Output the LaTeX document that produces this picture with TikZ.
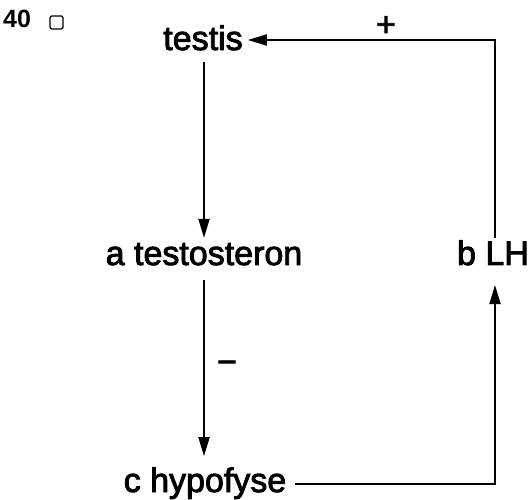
\documentclass[tikz,border=0pt]{standalone}
\usepackage{fontspec}
\setmainfont{Liberation Sans}[BoldFont={Liberation Sans},BoldFeatures={FakeBold=2.5}]
\newfontfamily\nrfont{Liberation Sans Bold}
\usetikzlibrary{arrows.meta}
\begin{document}
\begin{tikzpicture}[x=1pt,y=1pt,
        organ/.style={inner sep=0pt,anchor=base,font=\fontsize{34}{40}\selectfont\bfseries},
        sign/.style={inner sep=0pt,font=\fontsize{34}{40}\selectfont\bfseries},
        feedback/.style={line width=1.9pt,-{Triangle[length=19pt,width=11pt]}}]
    \useasboundingbox (0,0) rectangle (528,499);
    % number of the question
    \node[inner sep=0pt,anchor=base west,font=\fontsize{25}{30}\selectfont\nrfont] (nr) at (3,471) {40};
    \draw[line width=1.1pt,rounded corners=1.5pt] (50,470) rectangle (63,483);
    % the organs
    \node[organ] (testis) at (203,449) {testis};
    \node[organ] (testo) at (204,234) {a testosteron};
    \node[organ] (lh) at (493,234) {b LH};
    \node[organ] (hypo) at (205,7) {c hypofyse};
    \coordinate (hoek1) at (495,15);
    \coordinate (hoek2) at (495,459);
    % the loop
    \draw[feedback] ([yshift=-12pt]testis.base -| testo) -- ([yshift=5pt]testo.north);
    \draw[feedback] ([yshift=-15pt]testo.base) -- ([yshift=11pt,xshift=-1pt]hypo.north);
    \draw[feedback] ([xshift=9pt]hypo.east |- hoek1) -- (hoek1) -- ([yshift=-20pt]lh.base -| hoek1);
    \draw[feedback] ([yshift=2pt]lh.north -| hoek1) -- (hoek2) -- ([xshift=5pt]testis.east |- hoek2);
    \node[sign] (plus) at (386,473) {+};
    \node[sign] (min) at (227,132) {−};
\end{tikzpicture}
\end{document}
